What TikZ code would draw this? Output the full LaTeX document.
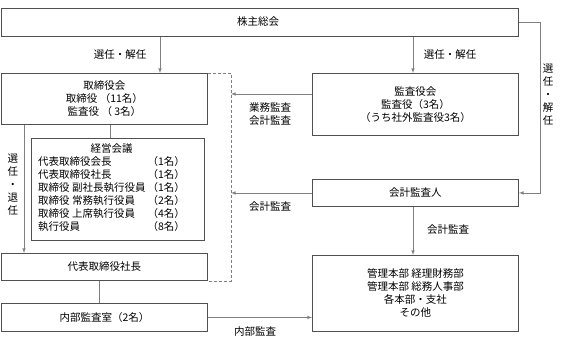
\documentclass[tikz,border=0pt]{standalone}
\usepackage{fontspec}
\setmainfont{Noto Sans CJK JP}
\usetikzlibrary{arrows,positioning}
\definecolor{boxline}{HTML}{505050}
\definecolor{conline}{HTML}{808080}
\tikzset{block/.style = {draw=boxline, line width=0.9pt, rectangle, anchor=north west, inner sep=0pt, align=center},
         link/.style = {draw=conline, line width=0.6pt},
         arr/.style = {link, -latex},
         dashline/.style = {draw=conline, line width=0.8pt, dash pattern=on 3pt off 2pt},
         lbl/.style = {font=\fontsize{10.5}{13}\selectfont, align=center, inner sep=0pt},
}

\begin{document}
\begin{tikzpicture}[x=1pt, y=-1pt, font=\fontsize{10.5}{13}\selectfont]
  \useasboundingbox (0,0) rectangle (567,358);

  % boxes
  \node[block, minimum width=517pt, minimum height=28pt] at (1,8) (soukai) {};
  \node at (258,22) (soukaitxt) {株主総会};
  \node[block, minimum width=206pt, minimum height=51pt] at (1,73) (torishimari) {取締役会\\取締役 （11名）\\監査役 （ 3名）};
  \node[block, minimum width=206pt, minimum height=62pt] at (312,73) (kansa) {監査役会\\監査役（3名）\\（うち社外監査役3名）};
  \node[block, minimum width=173pt, minimum height=102pt] at (31,138) (kaigi) {};
  \node[anchor=north west, inner sep=0pt] at (38,143) (kaigilist) {%
    \begin{tabular}{@{}l@{\hspace{2pt}}l@{}}
      \multicolumn{2}{c}{経営会議}\\
      代表取締役会長 & （1名）\\
      代表取締役社長 & （1名）\\
      取締役 副社長執行役員 & （1名）\\
      取締役 常務執行役員 & （2名）\\
      取締役 上席執行役員 & （4名）\\
      執行役員 & （8名）
    \end{tabular}};
  \node[block, minimum width=206pt, minimum height=27pt] at (312,179) (kaikei) {会計監査人};
  \node[block, minimum width=206pt, minimum height=27pt] at (1,253) (shacho) {代表取締役社長};
  \node[block, minimum width=206pt, minimum height=28pt] at (1,303) (naibu) {内部監査室（2名）};
  \node[block, minimum width=206pt, minimum height=76pt] at (312,255) (kanri) {管理本部 経理財務部\\管理本部 総務人事部\\各本部・支社\\その他};

  % columns for connectors
  \coordinate (xa) at (160,0);
  \coordinate (xb) at (413,0);
  \coordinate (xr) at (540,0);
  \coordinate (xd) at (231,0);
  \coordinate (xl) at (24,0);
  \coordinate (xk) at (110,0);
  \coordinate (xs) at (99,0);
  \coordinate (ym) at (0,94);

  % connectors
  \draw[arr] (soukai.south -| xa) -- (torishimari.north -| xa);
  \draw[arr] (soukai.south -| xb) -- (kansa.north -| xb);
  \draw[arr] (soukai.east) -- (soukai.east -| xr) -- (kaikei.east -| xr) -- (kaikei.east);
  \draw[link] (torishimari.south -| xk) -- (kaigi.north -| xk);
  \draw[arr] (torishimari.south -| xl) -- (shacho.north -| xl);
  \draw[link] (shacho.south -| xs) -- (naibu.north -| xs);
  \draw[dashline] (torishimari.north east) -- (torishimari.north east -| xd) -- (shacho.south east -| xd) -- (shacho.south east);
  \draw[arr] (kansa.west |- ym) -- (xd |- ym);
  \draw[arr] (kaikei.west) -- (kaikei.west -| xd);
  \draw[arr] (kaikei.south -| xb) -- (kanri.north -| xb);
  \draw[arr] (naibu.east) -- (naibu.east -| kanri.west);

  % labels
  \node[lbl] at (120,55) (sel1) {選任・解任};
  \node[lbl] at (450,55) (sel2) {選任・解任};
  \node[lbl] at (548,95) (sel3) {選\\任\\・\\解\\任};
  \node[lbl] at (13,185) (sel4) {選\\任\\・\\退\\任};
  \node[lbl] at (270,114) (audit1) {業務監査\\会計監査};
  \node[lbl] at (270,207) (audit2) {会計監査};
  \node[lbl] at (448,230) (audit3) {会計監査};
  \node[lbl] at (255,332) (audit4) {内部監査};
\end{tikzpicture}
\end{document}
